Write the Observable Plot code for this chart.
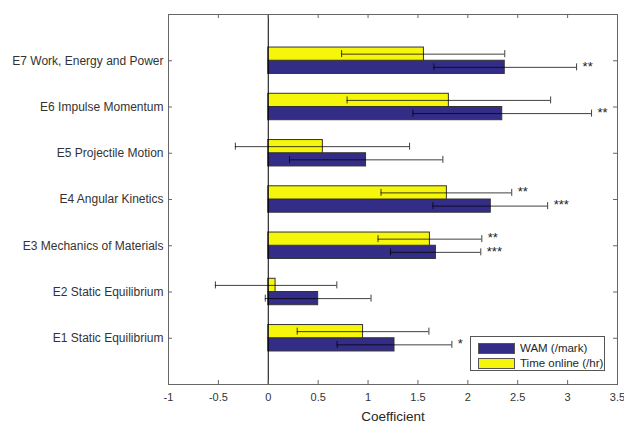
<!DOCTYPE html>
<html><head><meta charset="utf-8">
<script src="https://cdn.jsdelivr.net/npm/d3@7"></script>
<script src="https://cdn.jsdelivr.net/npm/@observablehq/plot@0.6"></script>
<style>
body{margin:0;background:#fff;}
#wrap{position:relative;width:624px;height:423px;font-family:"Liberation Sans",Arial,sans-serif;}
#legend{position:absolute;left:470px;top:336px;width:135px;height:35px;border:1px solid #555;background:#fff;box-sizing:border-box;font-size:11.5px;color:#262626;}
.item{position:absolute;left:7px;height:12px;display:flex;align-items:center;}
.sw{width:37px;height:11px;border:1px solid #555;box-sizing:border-box;margin-right:5px;}
</style>
</head><body><div id="wrap"></div>
<script>
const categories = ["E1 Static Equilibrium","E2 Static Equilibrium","E3 Mechanics of Materials","E4 Angular Kinetics","E5 Projectile Motion","E6 Impulse Momentum","E7 Work, Energy and Power"];
const seriesNames = ["WAM (/mark)","Time online (/hr)"];
const wam     = [1.265, 0.50, 1.68, 2.23, 0.98, 2.345, 2.37];
const wamLo   = [0.69, -0.03, 1.225, 1.65, 0.213, 1.45, 1.66];
const wamHi   = [1.84, 1.03, 2.13, 2.80, 1.75, 3.24, 3.09];
const time    = [0.95, 0.073, 1.62, 1.79, 0.547, 1.81, 1.56];
const timeLo  = [0.29, -0.53, 1.10, 1.13, -0.33, 0.79, 0.735];
const timeHi  = [1.61, 0.687, 2.14, 2.44, 1.416, 2.83, 2.37];
const wamStars  = ["*", "", "***", "***", "", "**", "**"];
const timeStars = ["", "", "**", "**", "", "", ""];
const xTicks = [-1,-0.5,0,0.5,1,1.5,2,2.5,3,3.5];
const colors = ["#342d88","#f6f60c"];

const W = 624, H = 423, mL = 168, mR = 7, mT = 14, mB = 39;
const xDom = [-1, 3.5], yDom = [0, categories.length + 1];
const bw = 0.2857; // MATLAB grouped barh width per bar
const pxY = (yDom[1]-yDom[0]) / (H - mT - mB);
const pxX = (xDom[1]-xDom[0]) / (W - mL - mR);
const tickLen = 4;

const rows = [];
categories.forEach((c, i) => {
  const pos = i + 1;
  rows.push({cat: c, s: 0, v: wam[i], lo: wamLo[i], hi: wamHi[i], star: wamStars[i], y1: pos - bw, y2: pos, yc: pos - bw/2});
  rows.push({cat: c, s: 1, v: time[i], lo: timeLo[i], hi: timeHi[i], star: timeStars[i], y1: pos, y2: pos + bw, yc: pos + bw/2});
});
const yTicks = categories.map((c, i) => i + 1);
const errStyle = {stroke: "#000", strokeWidth: 0.75};

const chart = Plot.plot({
  width: W, height: H,
  marginLeft: mL, marginRight: mR, marginTop: mT, marginBottom: mB,
  style: {fontFamily: '"Liberation Sans", Arial, sans-serif', fontSize: "11px", color: "#333", background: "#fff"},
  x: {domain: xDom, ticks: xTicks, tickSize: 0, tickPadding: 9, tickFormat: d => String(d), label: null},
  y: {domain: yDom, ticks: yTicks, tickSize: 0, tickPadding: 5, tickFormat: d => categories[d - 1], label: null},
  marks: [
    Plot.axisY({ticks: yTicks, tickSize: 0, tickPadding: 5, tickFormat: d => categories[d - 1], fontSize: 12, label: null}),
    Plot.axisX({ticks: xTicks, tickSize: 0, tickPadding: 9, tickFormat: d => String(d), label: null}),
    Plot.rectX(rows, {x1: 0, x2: "v", y1: "y1", y2: "y2", fill: d => colors[d.s], stroke: "#333", strokeWidth: 1}),
    Plot.ruleX([0], {stroke: "#000", strokeWidth: 1}),
    Plot.ruleY(rows, {y: "yc", x1: "lo", x2: "hi", ...errStyle}),
    Plot.ruleX(rows, {x: "lo", y1: d => d.yc - 3.5*pxY, y2: d => d.yc + 3.5*pxY, ...errStyle}),
    Plot.ruleX(rows, {x: "hi", y1: d => d.yc - 3.5*pxY, y2: d => d.yc + 3.5*pxY, ...errStyle}),
    Plot.text(rows.filter(d => d.star), {x: "hi", y: "yc", text: "star", dx: 6, dy: -1, textAnchor: "start", fontSize: 13, fill: "#222", letterSpacing: "1.5px"}),
    Plot.frame({stroke: "#666"}),
    Plot.ruleX(xTicks, {x: d => d, y1: yDom[0], y2: yDom[0] + tickLen*pxY, stroke: "#666"}),
    Plot.ruleX(xTicks, {x: d => d, y1: yDom[1] - tickLen*pxY, y2: yDom[1], stroke: "#666"}),
    Plot.ruleY(yTicks, {y: d => d, x1: xDom[0], x2: xDom[0] + tickLen*pxX, stroke: "#666"}),
    Plot.ruleY(yTicks, {y: d => d, x1: xDom[1] - tickLen*pxX, x2: xDom[1], stroke: "#666"}),
    Plot.text(["Coefficient"], {x: (xDom[0] + xDom[1]) / 2, y: yDom[0], text: d => d, dy: 32, fontSize: 13.5, fill: "#262626"})
  ]
});
const wrap = document.getElementById("wrap");
wrap.appendChild(chart);
const lg = document.createElement("div");
lg.id = "legend";
seriesNames.forEach((n, i) => {
  const it = document.createElement("div");
  it.className = "item";
  it.style.top = (i === 0 ? 5 : 20) + "px";
  const sw = document.createElement("div");
  sw.className = "sw";
  sw.style.background = colors[i];
  const t = document.createElement("span");
  t.textContent = n;
  it.appendChild(sw); it.appendChild(t);
  lg.appendChild(it);
});
wrap.appendChild(lg);
</script>
</body></html>
